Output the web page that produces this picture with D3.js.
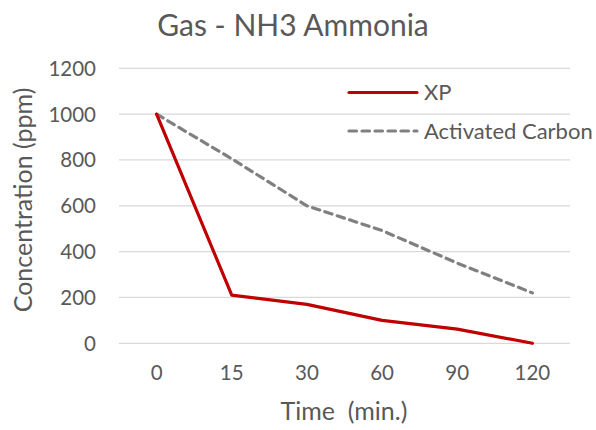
<!DOCTYPE html>
<html>
<head>
<meta charset="utf-8">
<script src="https://cdn.jsdelivr.net/npm/d3@7"></script>
<style>
  html, body { margin: 0; padding: 0; background: #fff; }
  svg { display: block; font-family: Lato, "Open Sans", sans-serif; }
</style>
</head>
<body>
<svg id="chart" width="596" height="430"></svg>
<script>
const title = "Gas - NH3 Ammonia";
const xTitle = "Time  (min.)";
const yTitle = "Concentration (ppm)";
const categories = ["0", "15", "30", "60", "90", "120"];
const xpValues = [1000, 210, 170, 100, 62, 0];
const carbonValues = [1000, 805, 600, 492, 350, 220];
const seriesNames = ["XP", "Activated Carbon"];
const yTicks = [0, 200, 400, 600, 800, 1000, 1200];

const series = [
  { name: seriesNames[0], values: xpValues, color: "#c00000", dash: null },
  { name: seriesNames[1], values: carbonValues, color: "#808080", dash: "7.5,5.5" }
];

const svg = d3.select("#chart");
const plot = { left: 119, right: 570, top: 68.3, bottom: 343.3 };

const x = d3.scalePoint().domain(categories).range([plot.left, plot.right]).padding(0.5);
const y = d3.scaleLinear().domain([0, 1200]).range([plot.bottom, plot.top]);

const textColor = "#595959";

// gridlines
svg.append("g").selectAll("line").data(yTicks).join("line")
  .attr("x1", plot.left).attr("x2", plot.right)
  .attr("y1", d => y(d)).attr("y2", d => y(d))
  .attr("stroke", "#d9d9d9").attr("stroke-width", 1.3);

// y tick labels
svg.append("g").selectAll("text").data(yTicks).join("text")
  .attr("x", 96).attr("y", d => y(d)).attr("dy", "0.36em")
  .attr("text-anchor", "end").attr("fill", textColor)
  .attr("font-size", 20.5).text(d => d);

// x tick labels
svg.append("g").selectAll("text").data(categories).join("text")
  .attr("x", d => x(d)).attr("y", 380)
  .attr("text-anchor", "middle").attr("fill", textColor)
  .attr("font-size", 20.5).text(d => d);

// title
svg.append("text").attr("x", 293).attr("y", 36).attr("text-anchor", "middle")
  .attr("fill", textColor).attr("font-size", 30).text(title);

// axis titles
svg.append("text").attr("x", 344).attr("y", 420).attr("text-anchor", "middle")
  .attr("fill", textColor).attr("font-size", 25).style("white-space", "pre").text(xTitle);

svg.append("text").attr("transform", "translate(32,200) rotate(-90)")
  .attr("text-anchor", "middle").attr("fill", textColor)
  .attr("font-size", 25).text(yTitle);

// lines
const line = d3.line().x((d, i) => x(categories[i])).y(d => y(d));
svg.append("g").selectAll("path").data(series.slice().reverse()).join("path")
  .attr("d", d => line(d.values))
  .attr("fill", "none")
  .attr("stroke", d => d.color)
  .attr("stroke-width", 3.2)
  .attr("stroke-linejoin", "round")
  .attr("stroke-linecap", "round")
  .attr("stroke-dasharray", d => d.dash);

// legend
const legendY = [92.5, 131];
const lg = svg.append("g").selectAll("g").data(series).join("g")
  .attr("transform", (d, i) => `translate(0,${legendY[i]})`);
lg.append("line").attr("x1", 349).attr("x2", 417).attr("y1", 0).attr("y2", 0)
  .attr("stroke", d => d.color).attr("stroke-width", 3.2)
  .attr("stroke-linecap", "round")
  .attr("stroke-dasharray", d => d.dash);
lg.append("text").attr("x", 424).attr("y", 0).attr("dy", "0.36em")
  .attr("fill", textColor).attr("font-size", 22).text(d => d.name);
</script>
</body>
</html>
